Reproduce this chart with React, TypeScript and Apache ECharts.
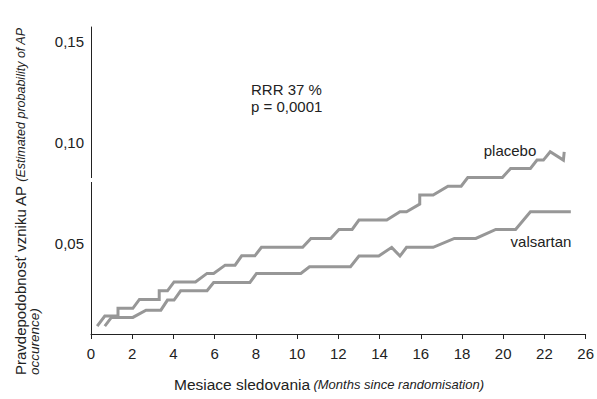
import React, { useEffect, useRef } from "react";
import * as echarts from "echarts";

const xTickValues = [0, 2, 4, 6, 8, 10, 12, 14, 16, 18, 20, 22, 24];
const xTickLabels = ["0", "2", "4", "6", "8", "10", "12", "14", "16", "18", "20", "22", "26"];
const yTickValues = [0.05, 0.1, 0.15];
const yTickLabels = ["0,05", "0,10", "0,15"];

const placeboMonths = [0.30, 0.67, 1.31, 1.31, 2.03, 2.35, 3.31, 3.31, 3.71, 4.03, 5.07, 5.63, 5.95, 6.51, 6.99, 7.31, 7.95, 8.27, 10.27, 10.67, 11.63, 12.03, 12.67, 13.00, 14.35, 14.99, 15.31, 15.95, 15.95, 16.60, 17.32, 17.96, 18.28, 19.96, 20.36, 21.32, 21.64, 21.95, 22.28, 22.92, 22.96];
const placeboRisk = [0.0089, 0.0139, 0.0139, 0.0177, 0.0177, 0.0221, 0.0221, 0.0264, 0.0264, 0.0308, 0.0308, 0.0350, 0.0350, 0.0391, 0.0391, 0.0437, 0.0437, 0.0479, 0.0479, 0.0523, 0.0523, 0.0568, 0.0568, 0.0614, 0.0614, 0.0655, 0.0655, 0.0693, 0.0738, 0.0738, 0.0782, 0.0782, 0.0825, 0.0825, 0.0870, 0.0870, 0.0911, 0.0911, 0.0952, 0.0911, 0.0952];

const valsartanMonths = [0.67, 0.99, 2.03, 2.67, 3.39, 3.71, 4.03, 4.35, 5.63, 5.95, 7.71, 8.03, 10.18, 10.60, 12.59, 13.00, 13.96, 14.59, 14.99, 15.31, 16.60, 17.63, 18.67, 19.64, 20.60, 21.32, 23.28];
const valsartanRisk = [0.0089, 0.0132, 0.0132, 0.0168, 0.0168, 0.0218, 0.0218, 0.0264, 0.0264, 0.0305, 0.0305, 0.0350, 0.0350, 0.0383, 0.0383, 0.0436, 0.0436, 0.0479, 0.0436, 0.0479, 0.0479, 0.0523, 0.0523, 0.0568, 0.0568, 0.0655, 0.0655];

const FONT = "'Liberation Sans', Arial, Helvetica, sans-serif";
const LINE = "#979797";
const INK = "#222";

export default function App() {
  const ref = useRef<HTMLDivElement>(null);
  useEffect(() => {
    if (!ref.current) return;
    const chart = echarts.init(ref.current, null, { renderer: "svg" });
    const pair = (xs: number[], ys: number[]) => xs.map((x, i) => [x, ys[i]]);
    chart.setOption({
      animation: false,
      textStyle: { fontFamily: FONT },
      grid: { left: 91, right: 7, top: 27, bottom: 65, containLabel: false },
      xAxis: {
        type: "value",
        min: 0,
        max: 24,
        interval: 2,
        axisLine: { show: true, lineStyle: { color: INK, width: 1 } },
        axisTick: { show: true, length: 5, lineStyle: { color: INK } },
        axisLabel: {
          margin: 12,
          fontSize: 15,
          color: INK,
          fontFamily: FONT,
          formatter: (v: number) => {
            const i = xTickValues.indexOf(Math.round(v));
            return i >= 0 ? xTickLabels[i] : "";
          },
        },
        splitLine: { show: false },
      },
      yAxis: {
        type: "value",
        min: 0.005,
        max: 0.157,
        axisLine: { show: true, lineStyle: { color: INK, width: 1 } },
        axisTick: { show: false },
        axisLabel: {
          customValues: yTickValues,
          margin: 7,
          fontSize: 15,
          color: INK,
          fontFamily: FONT,
          formatter: (v: number) => {
            const i = yTickValues.findIndex((t) => Math.abs(t - v) < 1e-6);
            return i >= 0 ? yTickLabels[i] : "";
          },
        },
        splitLine: { show: false },
      },
      series: [
        {
          name: "placebo",
          type: "line",
          data: pair(placeboMonths, placeboRisk),
          showSymbol: false,
          lineStyle: { color: LINE, width: 3, join: "miter" },
          z: 3,
        },
        {
          name: "valsartan",
          type: "line",
          data: pair(valsartanMonths, valsartanRisk),
          showSymbol: false,
          lineStyle: { color: LINE, width: 3, join: "miter" },
          z: 3,
        },
      ],
      graphic: [
        { type: "rect", shape: { x: 87, y: 178, width: 8, height: 4 }, style: { fill: "#fff" }, z: 100 },
        {
          type: "text",
          left: 251,
          top: 81,
          style: {
            text: "RRR 37 %\np = 0,0001",
            font: `15px ${FONT}`,
            fill: INK,
            lineHeight: 17,
          },
        },
        {
          type: "text",
          x: 510,
          y: 150,
          style: { text: "placebo", font: `15px ${FONT}`, fill: INK, align: "center", verticalAlign: "middle" },
        },
        {
          type: "text",
          x: 541,
          y: 241,
          style: { text: "valsartan", font: `15px ${FONT}`, fill: INK, align: "center", verticalAlign: "middle" },
        },
        {
          type: "text",
          x: 174,
          y: 384,
          style: {
            text: "{a|Mesiace sledovania} {b|(Months since randomisation)}",
            align: "left",
            verticalAlign: "middle",
            rich: {
              a: { fontSize: 15.5, fontFamily: FONT, fill: INK },
              b: { fontSize: 13, fontStyle: "italic", fontFamily: FONT, fill: INK },
            },
          },
        },
        {
          type: "text",
          x: 13,
          y: 375,
          rotation: Math.PI / 2,
          style: {
            text: "{a|Pravdepodobnosť vzniku AP} {b|(Estimated probability of AP}\n{c|occurence)}",
            align: "left",
            verticalAlign: "top",
            rich: {
              a: { fontSize: 15, fontFamily: FONT, fill: INK, lineHeight: 15 },
              b: { fontSize: 12.5, fontStyle: "italic", fontFamily: FONT, fill: INK, lineHeight: 15 },
              c: { fontSize: 13.5, fontStyle: "italic", fontFamily: FONT, fill: INK, lineHeight: 12 },
            },
          },
        },
      ],
    });
    return () => chart.dispose();
  }, []);
  return <div ref={ref} style={{ width: 597, height: 399, position: "absolute", left: 0, top: 0 }} />;
}
